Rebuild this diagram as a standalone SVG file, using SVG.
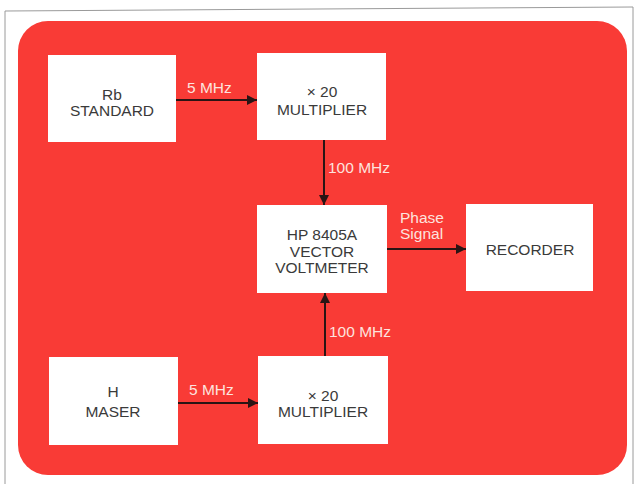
<svg xmlns="http://www.w3.org/2000/svg" width="637" height="484" viewBox="0 0 637 484">
<defs>
<marker id="ah" viewBox="0 0 10 10" refX="10" refY="5" markerWidth="10" markerHeight="10" markerUnits="userSpaceOnUse" orient="auto">
<path d="M0,0 L10,5 L0,10 Z" fill="#2a1414"/>
</marker>
<style>
.box{fill:#ffffff;}
.t{font-family:"Liberation Sans",Arial,sans-serif;font-size:15.5px;fill:#3a3a3a;text-anchor:middle;}
.lbl{font-family:"Liberation Sans",Arial,sans-serif;font-size:15.5px;fill:#fde3df;}
.c{stroke:#2a1414;stroke-width:2;fill:none;marker-end:url(#ah);}
</style>
</defs>
<rect width="637" height="484" fill="#ffffff"/>
<path d="M5,484 V11 L633,7 V484" fill="none" stroke="#9a9a9a" stroke-width="1"/>
<rect x="18" y="21" width="609" height="454" rx="30" ry="30" fill="#f93b36"/>
<g id="connectors">
<line class="c" x1="176" y1="100" x2="257" y2="100"/>
<line class="c" x1="324" y1="140" x2="324" y2="205"/>
<line class="c" x1="387" y1="249" x2="466" y2="249"/>
<line class="c" x1="325" y1="356" x2="325" y2="293"/>
<line class="c" x1="178" y1="403" x2="258" y2="403"/>
<text class="lbl" x="187" y="93">5 MHz</text>
<text class="lbl" x="328" y="173">100 MHz</text>
<text class="lbl" x="400" y="223">Phase</text>
<text class="lbl" x="400" y="239">Signal</text>
<text class="lbl" x="329" y="337">100 MHz</text>
<text class="lbl" x="189" y="395">5 MHz</text>
</g>
<g id="rb">
<rect class="box" x="48" y="55" width="128" height="87"/>
<text class="t" x="112" y="100">Rb</text>
<text class="t" x="112" y="116">STANDARD</text>
</g>
<g id="mult1">
<rect class="box" x="257" y="53" width="129" height="87"/>
<text class="t" x="322" y="97">× 20</text>
<text class="t" x="322" y="115">MULTIPLIER</text>
</g>
<g id="vvm">
<rect class="box" x="257" y="205" width="130" height="88"/>
<text class="t" x="322" y="240">HP 8405A</text>
<text class="t" x="322" y="256.5">VECTOR</text>
<text class="t" x="322" y="272.5">VOLTMETER</text>
</g>
<g id="recorder">
<rect class="box" x="466" y="204" width="127" height="87"/>
<text class="t" x="530" y="255">RECORDER</text>
</g>
<g id="maser">
<rect class="box" x="49" y="357" width="129" height="88"/>
<text class="t" x="113" y="397">H</text>
<text class="t" x="113" y="417">MASER</text>
</g>
<g id="mult2">
<rect class="box" x="258" y="356" width="130" height="88"/>
<text class="t" x="323" y="401">× 20</text>
<text class="t" x="323" y="417">MULTIPLIER</text>
</g>
</svg>
